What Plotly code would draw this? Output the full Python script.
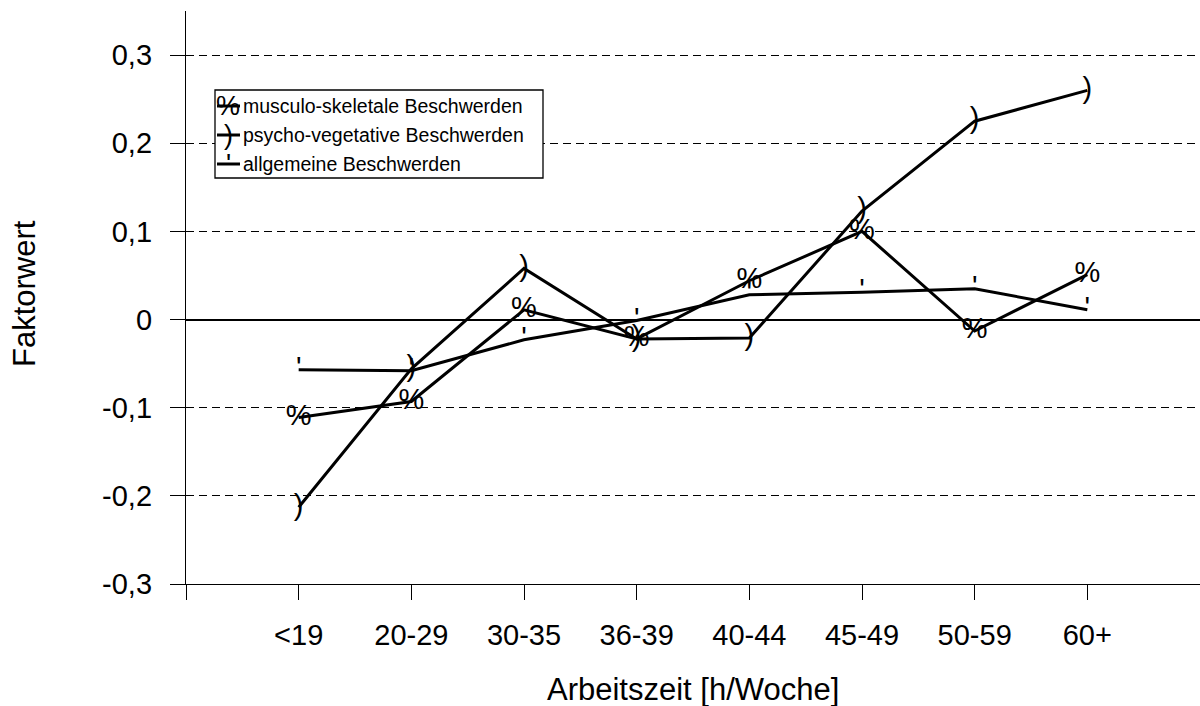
import plotly.graph_objects as go

categories = ["<19", "20-29", "30-35", "36-39", "40-44", "45-49", "50-59", "60+"]
musculo = [-0.111, -0.093, 0.011, -0.022, 0.044, 0.100, -0.013, 0.051]
psycho = [-0.213, -0.056, 0.058, -0.022, -0.021, 0.123, 0.225, 0.260]
allgemeine = [-0.057, -0.058, -0.023, -0.001, 0.028, 0.031, 0.035, 0.011]
series_names = ["musculo-skeletale Beschwerden", "psycho-vegetative Beschwerden", "allgemeine Beschwerden"]
series_glyphs = ["%", ")", "'"]
y_ticks = [-0.3, -0.2, -0.1, 0, 0.1, 0.2, 0.3]
y_ticktext = ["-0,3", "-0,2", "-0,1", "0", "0,1", "0,2", "0,3"]

FONT = "Liberation Sans, Arial, sans-serif"
W, H = 1200, 706
L, R, T, B = 186, 0, 11, 122
PW, PH = W - L - R, H - T - B


def px(x):
    return (x - L) / PW


def py(y):
    return (H - B - y) / PH


xs = list(range(len(categories)))
fig = go.Figure()
for vals, name, g in zip([musculo, psycho, allgemeine], series_names, series_glyphs):
    fig.add_trace(go.Scatter(
        x=xs, y=vals, name=name, mode="lines+text",
        text=[g] * len(vals), textposition="middle center",
        textfont=dict(family=FONT, size=29, color="black"),
        line=dict(color="black", width=3), cliponaxis=False, showlegend=False,
    ))

shapes = []
annotations = []
# legend box
lx0, lx1, ly0, ly1 = 215, 543, 90, 178
shapes.append(dict(type="rect", xref="paper", yref="paper", x0=px(lx0), x1=px(lx1),
                   y0=py(ly1), y1=py(ly0), line=dict(color="black", width=1.3),
                   fillcolor="white", layer="above"))
rows = [106, 135, 164]
for ry, name, g in zip(rows, series_names, series_glyphs):
    shapes.append(dict(type="line", xref="paper", yref="paper", x0=px(217), x1=px(240),
                       y0=py(ry), y1=py(ry), line=dict(color="black", width=3), layer="above"))
    annotations.append(dict(xref="paper", yref="paper", x=px(228), y=py(ry), text=g,
                            showarrow=False, xanchor="center", yanchor="middle",
                            font=dict(family=FONT, size=27, color="black")))
    annotations.append(dict(xref="paper", yref="paper", x=px(241), y=py(ry), text=name,
                            showarrow=False, xanchor="left", yanchor="middle",
                            font=dict(family=FONT, size=19.5, color="black")))

annotations.append(dict(xref="paper", yref="paper", x=px(25), y=py(294), text="Faktorwert",
                        textangle=-90, showarrow=False, xanchor="center", yanchor="middle",
                        font=dict(family=FONT, size=31, color="black")))
annotations.append(dict(xref="paper", yref="paper", x=px(693), y=py(689), text="Arbeitszeit [h/Woche]",
                        showarrow=False, xanchor="center", yanchor="middle",
                        font=dict(family=FONT, size=31, color="black")))

fig.update_layout(
    width=W, height=H, margin=dict(l=L, r=R, t=T, b=B, pad=0),
    paper_bgcolor="white", plot_bgcolor="white",
    font=dict(family=FONT, color="black"),
    shapes=shapes, annotations=annotations, showlegend=False,
    xaxis=dict(range=[-1, 8], tickvals=[-1] + xs, ticktext=[""] + categories,
               showgrid=False, zeroline=False, showline=True, linecolor="black", linewidth=1.3,
               ticks="outside", ticklen=15, tickwidth=1.3, tickcolor="black",
               tickfont=dict(family=FONT, size=29, color="black"), ticklabelstandoff=10),
    yaxis=dict(range=[-0.3, 0.35], tickvals=y_ticks, ticktext=y_ticktext,
               showgrid=True, gridcolor="black", gridwidth=1, griddash="8px,5px",
               zeroline=True, zerolinecolor="black", zerolinewidth=1.6,
               showline=True, linecolor="black", linewidth=1.3,
               ticks="outside", ticklen=15, tickwidth=1.3, tickcolor="black",
               tickfont=dict(family=FONT, size=29, color="black"), ticklabelstandoff=12),
)
fig.write_html("out.html")
